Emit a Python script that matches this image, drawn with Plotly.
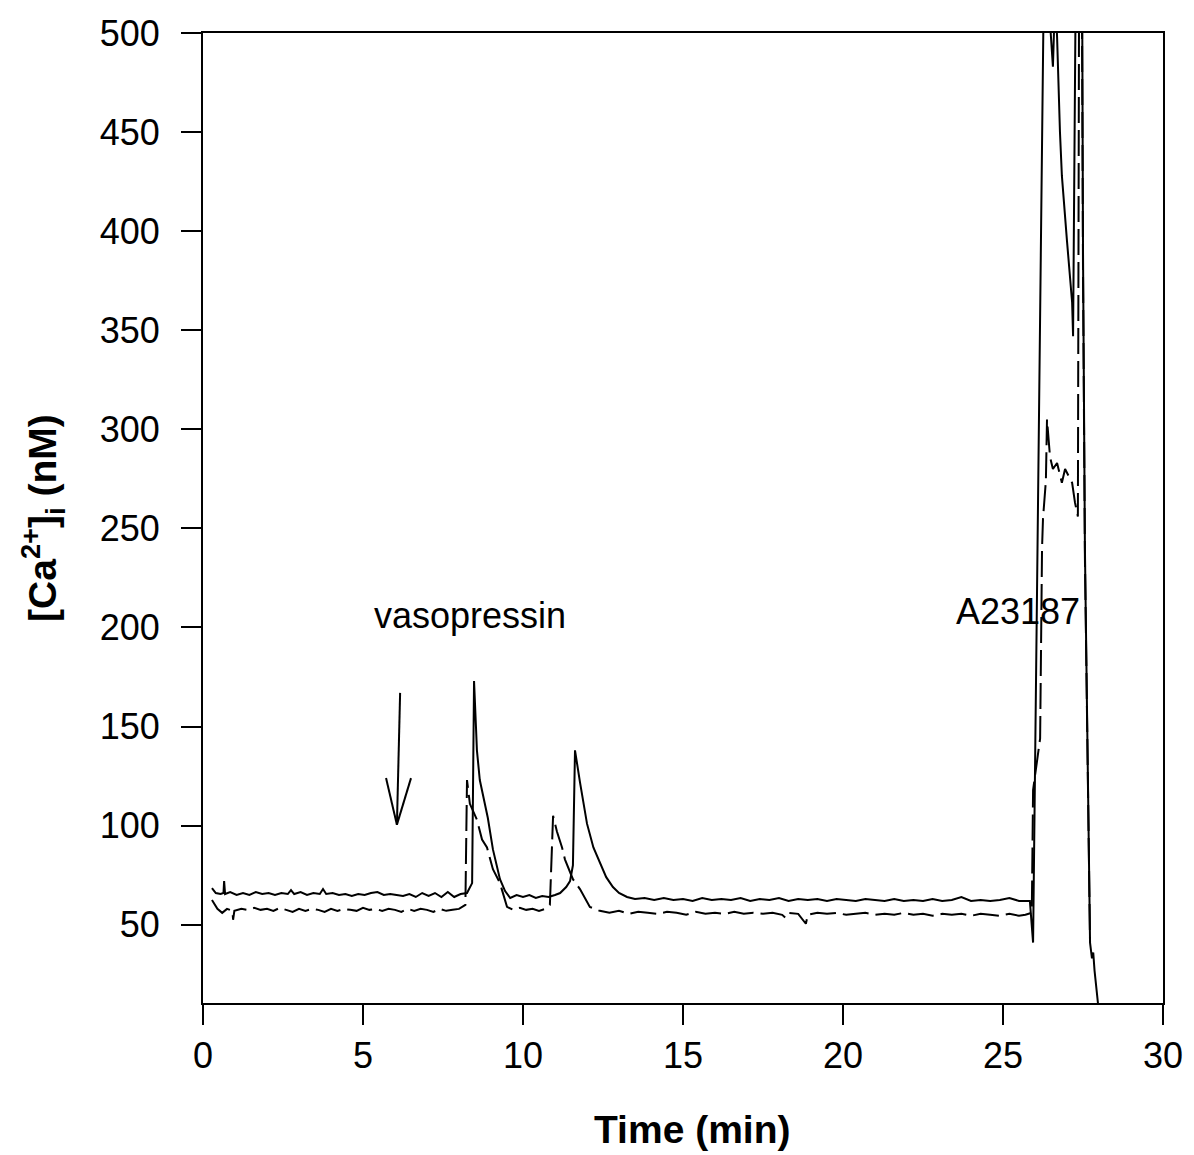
import plotly.graph_objects as go

# ---------------- data ----------------
solid_t = [0.28, 0.40, 0.55, 0.64, 0.66, 0.69, 0.85, 1.05, 1.25, 1.45, 1.65, 1.85, 2.05, 2.25, 2.45,
           2.65, 2.75, 2.85, 3.05, 3.25, 3.45, 3.65, 3.75, 3.85, 4.05, 4.25, 4.45, 4.65, 4.85, 5.05,
           5.25, 5.45, 5.65, 5.85, 6.05, 6.25, 6.45, 6.65, 6.85, 7.05, 7.25, 7.45, 7.65, 7.85, 8.05,
           8.25, 8.41, 8.44, 8.47, 8.53, 8.56, 8.65, 8.75, 8.90, 9.06, 9.28, 9.44, 9.60, 9.80, 10.0,
           10.2, 10.4, 10.6, 10.8, 11.0, 11.16, 11.35, 11.47, 11.56, 11.625, 11.78, 12.0, 12.2, 12.4,
           12.6, 12.81, 13.0, 13.25, 13.5, 13.8, 14.1, 14.4, 14.7, 15.0, 15.3, 15.6, 15.9, 16.2, 16.5,
           16.8, 17.1, 17.4, 17.7, 18.0, 18.3, 18.6, 18.9, 19.2, 19.5, 19.8, 20.1, 20.4, 20.7, 21.0,
           21.3, 21.6, 21.9, 22.2, 22.5, 22.8, 23.1, 23.4, 23.7, 24.0, 24.3, 24.6, 24.9, 25.2, 25.5,
           25.84, 25.94, 26.28, 26.40, 26.47, 26.56, 26.63, 26.69, 26.78, 26.84, 27.0, 27.09, 27.16,
           27.19, 27.28, 27.40, 27.47, 27.50, 27.56, 27.72, 27.78, 27.82, 27.86, 27.97]
solid_ca = [68.5, 66, 65.5, 66, 72, 65.5, 66.5, 65, 66, 65, 66.5, 65.5, 66, 65, 66,
            65.5, 67.5, 65.5, 66.5, 65, 66, 65.5, 68, 65.5, 66, 65, 65.5, 64.5, 65.5, 65,
            66, 66.5, 65, 65.5, 65, 64.5, 65.5, 64, 66, 64.5, 66, 64, 66.5, 64, 65.5,
            66, 71, 120, 173, 150, 138, 123, 115, 104, 88, 73, 67, 63.5, 65, 64,
            65, 63.5, 64.5, 64, 65, 66, 69, 72, 80, 138, 122, 101, 89, 81,
            74, 69, 66, 64, 63, 63.5, 62.5, 63.5, 62.5, 63, 62, 63.5, 62.5, 63, 62.5,
            63.5, 62, 63, 62.5, 63.5, 62, 63, 62.5, 63, 62, 63, 62.5, 62, 63, 62.5,
            62, 63, 62, 62.5, 62, 63, 62, 62.5, 64, 62, 62.5, 62, 62.5, 63.5, 62,
            62, 41, 530, 560, 505, 483, 520, 498, 450, 428, 395, 378, 364,
            347, 540, 560, 540, 391, 240, 41, 33, 36, 27, 10]

dashed_t = [0.28, 0.45, 0.60, 0.75, 0.92, 0.94, 0.98, 1.2, 1.4, 1.6, 1.8, 2.0, 2.2, 2.4, 2.6,
            2.8, 3.0, 3.2, 3.4, 3.6, 3.8, 4.0, 4.2, 4.4, 4.6, 4.8, 5.0, 5.2, 5.4, 5.6,
            5.8, 6.0, 6.2, 6.4, 6.6, 6.8, 7.0, 7.2, 7.4, 7.6, 7.8, 8.0, 8.2, 8.25, 8.34,
            8.56, 8.72, 8.875, 9.06, 9.28, 9.5, 9.7, 9.9, 10.1, 10.3, 10.5, 10.7, 10.84, 10.94,
            11.06, 11.22, 11.31, 11.56, 11.78, 12.09, 12.4, 12.7, 13.0, 13.3, 13.6, 13.9, 14.2, 14.5,
            14.8, 15.1, 15.4, 15.7, 16.0, 16.3, 16.6, 16.9, 17.2, 17.5, 17.8, 18.1, 18.2, 18.3,
            18.6, 18.84, 18.9, 19.2, 19.5, 19.8, 20.1, 20.4, 20.7, 21.0, 21.3, 21.6, 21.9, 22.2,
            22.5, 22.8, 23.1, 23.4, 23.7, 24.0, 24.3, 24.6, 24.9, 25.2, 25.5, 25.7, 25.9, 25.94,
            26.16, 26.22, 26.25, 26.34, 26.375, 26.47, 26.56, 26.69, 26.84, 26.94, 27.16, 27.25,
            27.34, 27.38, 27.46, 27.50, 27.56, 27.72]
dashed_ca = [62.5, 58, 56, 58, 57, 52.5, 57, 58, 57.5, 58.5, 57.5, 58, 57, 58.5, 57.5,
             56.5, 58, 57, 58, 57.5, 56.5, 58, 57, 58, 57.5, 57, 58.5, 57.5, 58, 57,
             58, 57.5, 56.5, 58, 57, 58, 57.5, 56.5, 58, 57, 57.5, 58, 60, 123, 111,
             103, 93, 89, 78, 71, 59, 57.5, 58.5, 57.5, 58, 57, 58, 60, 105,
             97, 89, 83, 73, 68, 59, 57, 56, 57, 55.5, 56.5, 56, 55.5, 56.5,
             56, 55, 56.5, 55.5, 56, 55.5, 56.5, 55.5, 56, 55.5, 56, 55, 53.5, 56,
             55.5, 50.5, 55, 56, 55.5, 56, 55, 55.5, 56, 55, 55.5, 55, 56, 55,
             55.5, 54.5, 55.5, 55, 55.5, 54.5, 55.5, 55, 54.5, 55.5, 54.5, 55, 56, 118,
             144, 240, 255, 274, 305, 286, 280, 283, 273, 280, 273, 263,
             256, 540, 540, 380, 235, 41]

x_ticks = [0, 5, 10, 15, 20, 25, 30]
y_ticks = [50, 100, 150, 200, 250, 300, 350, 400, 450, 500]

label_vaso = "vasopressin"
label_a23 = "A23187"

# arrow (vasopressin addition)
arrow_tail = (6.16, 167)
arrow_tip = (6.06, 100.5)
arrow_head_left = (5.72, 124)
arrow_head_right = (6.50, 124)

FONT = "Arial, Liberation Sans, sans-serif"

fig = go.Figure()
fig.add_trace(go.Scatter(x=solid_t, y=solid_ca, mode="lines",
                         line=dict(color="black", width=2), showlegend=False))
fig.add_trace(go.Scatter(x=dashed_t, y=dashed_ca, mode="lines",
                         line=dict(color="black", width=2, dash="26px,7px"), showlegend=False))

for p in (arrow_tail, arrow_head_left, arrow_head_right):
    fig.add_shape(type="line", xref="x", yref="y", x0=p[0], y0=p[1],
                  x1=arrow_tip[0], y1=arrow_tip[1], line=dict(color="black", width=2))

fig.add_annotation(x=8.34, y=206, xref="x", yref="y", text=label_vaso, showarrow=False,
                   font=dict(family=FONT, size=36, color="black"))
fig.add_annotation(x=25.47, y=208, xref="x", yref="y", text=label_a23, showarrow=False,
                   font=dict(family=FONT, size=36, color="black"))

# axis titles
fig.add_annotation(x=-0.1667, y=0.5, xref="paper", yref="paper",
                   text="<b>[Ca<sup>2+</sup>]<sub>i</sub> (nM)</b>", textangle=-90,
                   showarrow=False, xanchor="center", yanchor="middle",
                   font=dict(family=FONT, size=39, color="black"))
fig.add_annotation(x=0.509, y=-0.13, xref="paper", yref="paper",
                   text="<b>Time (min)</b>", showarrow=False, xanchor="center", yanchor="middle",
                   font=dict(family=FONT, size=39, color="black"))

fig.update_xaxes(range=[0, 30], tickvals=x_ticks, ticks="outside", ticklen=20, tickwidth=2,
                 tickcolor="black", showline=True, linecolor="black", linewidth=2, mirror=True,
                 showgrid=False, zeroline=False,
                 tickfont=dict(family=FONT, size=36, color="black"))
fig.update_yaxes(range=[10.5, 500], tickvals=y_ticks, ticks="outside", ticklen=20, tickwidth=2,
                 tickcolor="black", showline=True, linecolor="black", linewidth=2, mirror=True,
                 showgrid=False, zeroline=False, ticklabelstandoff=14,
                 tickfont=dict(family=FONT, size=36, color="black"))

fig.update_layout(width=1194, height=1155, margin=dict(l=203, r=31, t=33, b=152),
                  paper_bgcolor="white", plot_bgcolor="white")

fig.write_html("out.html", config={"displayModeBar": False},
               post_script="document.body.style.margin='0';document.body.style.overflow='hidden';")
